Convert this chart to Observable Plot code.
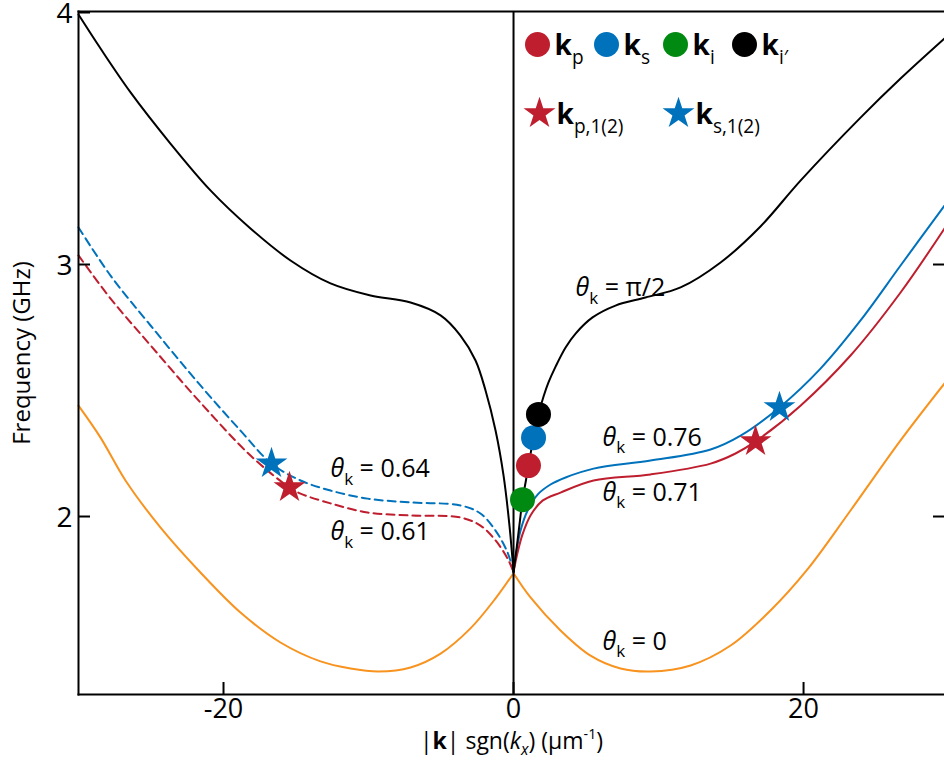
<!DOCTYPE html>
<html><head><meta charset="utf-8">
<script src="https://cdn.jsdelivr.net/npm/d3@7"></script>
<script src="https://cdn.jsdelivr.net/npm/@observablehq/plot@0.6"></script>
<style>html,body{margin:0;padding:0;background:#fff;} #chart svg{display:block;}</style>
</head><body><div id="chart"></div>
<script>
// ---- axis ticks ----
const xTicks = [-20, 0, 20];
const yTicks = [2, 3, 4];

// ---- dispersion branches (k in µm^-1, f in GHz) ----
const kBlackL = [-30.0, -28.48, -26.41, -23.66, -20.90, -18.14, -15.38, -12.62, -9.86, -7.10, -5.03, -3.66, -2.62, -1.93, -1.24, -0.69, -0.28, 0];
const fBlackL = [3.992, 3.857, 3.683, 3.480, 3.294, 3.143, 3.016, 2.925, 2.877, 2.849, 2.798, 2.718, 2.619, 2.500, 2.341, 2.163, 1.964, 1.78];
const kBlackR = [0, 0.21, 0.41, 0.62, 0.83, 1.03, 1.38, 1.72, 2.07, 2.41, 2.90, 3.59, 4.28, 5.45, 7.03, 9.10, 11.52, 14.28, 17.03, 19.79, 23.93, 26.69, 29.72];
const fBlackR = [1.78, 1.873, 1.968, 2.067, 2.135, 2.202, 2.313, 2.405, 2.476, 2.532, 2.595, 2.671, 2.726, 2.790, 2.837, 2.869, 2.909, 3.008, 3.151, 3.333, 3.583, 3.738, 3.897];
const kBlueR = [0, 0.21, 0.48, 0.97, 1.66, 2.55, 3.59, 5.52, 9.45, 13.59, 15.66, 18.34, 21.17, 23.93, 26.69, 29.72];
const fBlueR = [1.78, 1.865, 1.944, 2.024, 2.087, 2.127, 2.155, 2.190, 2.222, 2.266, 2.321, 2.433, 2.587, 2.778, 2.996, 3.234];
const kRedR = [0, 0.28, 0.62, 1.17, 2.00, 3.24, 5.52, 9.45, 13.59, 15.31, 16.69, 19.79, 23.24, 26.69, 29.72];
const fRedR = [1.78, 1.857, 1.929, 2.004, 2.063, 2.095, 2.143, 2.167, 2.210, 2.250, 2.298, 2.440, 2.639, 2.889, 3.143];
const kBlueL = [-30.0, -27.79, -25.03, -21.59, -18.83, -16.69, -14.69, -12.62, -10.07, -7.10, -3.66, -2.28, -1.24, -0.41, 0];
const fBlueL = [3.147, 2.956, 2.758, 2.520, 2.341, 2.210, 2.143, 2.103, 2.071, 2.056, 2.044, 2.012, 1.944, 1.857, 1.78];
const kRedL = [-30.0, -27.79, -25.03, -21.59, -18.14, -15.45, -14.69, -12.62, -10.07, -7.10, -3.66, -2.28, -1.24, -0.41, 0];
const fRedL = [3.036, 2.865, 2.679, 2.452, 2.242, 2.115, 2.091, 2.052, 2.016, 2.004, 1.996, 1.964, 1.905, 1.833, 1.78];
const kOrangeL = [-30.0, -28.48, -26.76, -24.34, -21.59, -18.83, -16.07, -13.31, -11.24, -9.31, -7.10, -5.03, -2.97, -1.24, 0];
const fOrangeL = [2.440, 2.313, 2.143, 1.956, 1.778, 1.619, 1.500, 1.425, 1.397, 1.385, 1.401, 1.456, 1.556, 1.675, 1.775];
const kOrangeR = [0, 1.17, 3.24, 5.31, 7.38, 9.45, 12.21, 14.97, 17.72, 20.21, 23.24, 26.69, 29.72];
const fOrangeR = [1.775, 1.679, 1.548, 1.448, 1.397, 1.385, 1.409, 1.488, 1.627, 1.786, 2.024, 2.302, 2.528];

// ---- wavevector markers ----
const dotK = [0.62, 1.03, 1.38, 1.72];
const dotF = [2.067, 2.202, 2.313, 2.405];
const dotName = ["i", "p", "s", "i′"];
const starK = [-16.69, -15.45, 16.69, 18.34];
const starF = [2.210, 2.115, 2.298, 2.433];
const starName = ["s", "p", "p", "s"];

// ---- legend ----
const legendDots = ["p", "s", "i", "i′"];
const legendStars = ["p,1(2)", "s,1(2)"];

// ---- curve annotations ----
const annotK = [4.28, 6.14, 6.14, -12.62, -12.62, 6.14];
const annotF = [2.905, 2.313, 2.095, 2.187, 1.937, 1.504];
const annotTheta = ["π/2", "0.76", "0.71", "0.64", "0.61", "0"];

// ---- styling ----
const RED = "#BE1E2D", BLUE = "#0072BC", GREEN = "#008A12", ORANGE = "#F7931E", BLACK = "#000";
const colorOf = n => n.startsWith("p") ? RED : n.startsWith("s") ? BLUE : n === "i" ? GREEN : BLACK;
const FONT = "'Open Sans', sans-serif";

const toRows = (ks, fs) => ks.map((k, i) => ({k, f: fs[i]}));
const branches = [
  {data: toRows(kOrangeL, fOrangeL), stroke: ORANGE},
  {data: toRows(kOrangeR, fOrangeR), stroke: ORANGE},
  {data: toRows(kBlueL, fBlueL), stroke: BLUE, dash: "8,5"},
  {data: toRows(kRedL, fRedL), stroke: RED, dash: "8,5"},
  {data: toRows(kBlueR, fBlueR), stroke: BLUE},
  {data: toRows(kRedR, fRedR), stroke: RED},
  {data: toRows(kBlackL, fBlackL), stroke: BLACK},
  {data: toRows(kBlackR, fBlackR), stroke: BLACK}
];
const dots = dotK.map((k, i) => ({k, f: dotF[i], name: dotName[i]}));
const stars = starK.map((k, i) => ({k, f: starF[i], name: starName[i]}));
const annots = annotK.map((k, i) => ({k, f: annotF[i], label: "*{θ}_{k} = " + annotTheta[i]}));

const legendMarks = [];
legendDots.forEach((n, i) => {
  legendMarks.push(Plot.dot([n], {frameAnchor: "top-left", dx: 459 + i * 69, dy: 33, r: 12.5, fill: colorOf(n), stroke: "none"}));
  legendMarks.push(Plot.text([n], {frameAnchor: "top-left", dx: 476 + i * 69, dy: 35, text: d => "!{k}_{" + d + "}", textAnchor: "start", lineAnchor: "middle", fontSize: 28, fill: "black"}));
});
legendStars.forEach((n, i) => {
  legendMarks.push(Plot.dot([n], {frameAnchor: "top-left", dx: 461 + i * 139, dy: 102, r: 10, symbol: "star", fill: colorOf(n), stroke: "none"}));
  legendMarks.push(Plot.text([n], {frameAnchor: "top-left", dx: 478 + i * 139, dy: 104, text: d => "!{k}_{" + d + "}", textAnchor: "start", lineAnchor: "middle", fontSize: 28, fill: "black"}));
});

const chart = Plot.plot({
  width: 944, height: 768,
  marginLeft: 78, marginRight: 0, marginTop: 11, marginBottom: 74,
  x: {domain: [-30, 29.72]},
  y: {domain: [1.2937, 4.004]},
  style: {fontFamily: FONT, background: "white", color: "black", overflow: "visible"},
  marks: [
    ...branches.map(b => Plot.line(b.data, {x: "k", y: "f", stroke: b.stroke, strokeWidth: 2, strokeDasharray: b.dash, curve: "catmull-rom"})),
    Plot.ruleX([0], {stroke: BLACK, strokeWidth: 2}),
    Plot.frame({anchor: "top", stroke: BLACK, strokeWidth: 2}),
    Plot.frame({anchor: "left", stroke: BLACK, strokeWidth: 2}),
    Plot.frame({anchor: "bottom", stroke: BLACK, strokeWidth: 2}),
    Plot.axisY({anchor: "left", ticks: yTicks, tickSize: 12, dx: 12, tickFormat: () => "", strokeWidth: 2, label: null}),
    Plot.axisY({anchor: "right", ticks: [2, 3], tickSize: 12, dx: -12, tickFormat: () => "", strokeWidth: 2, label: null}),
    Plot.axisX({anchor: "bottom", ticks: xTicks, tickSize: 12, dy: -12, tickFormat: () => "", strokeWidth: 2, label: null}),
    Plot.axisY({anchor: "left", ticks: yTicks, tickSize: 0, tickPadding: 6, tickFormat: d => String(d), fontSize: 28, label: null, dy: 2}),
    Plot.axisX({anchor: "bottom", ticks: xTicks, tickSize: 0, tickPadding: 4, tickFormat: d => String(d), fontSize: 27, label: null}),
    Plot.dot(dots, {x: "k", y: "f", r: 12.5, fill: d => colorOf(d.name), stroke: "none"}),
    Plot.dot(stars, {x: "k", y: "f", r: 10, symbol: "star", fill: d => colorOf(d.name), stroke: "none"}),
    Plot.text(annots, {x: "k", y: "f", text: "label", textAnchor: "start", lineAnchor: "middle", fontSize: 25, fill: "black"}),
    ...legendMarks,
    Plot.text(["Frequency (GHz)"], {frameAnchor: "left", textAnchor: "middle", dx: -56, rotate: -90, fontSize: 24, fill: "black"}),
    Plot.text(["|!{k}| sgn(*{k}~{x}) (μm^{-1})"], {frameAnchor: "bottom", textAnchor: "middle", dy: 54, fontSize: 23, fill: "black"})
  ]
});
document.getElementById("chart").appendChild(chart);

// rich text: *{} italic, !{} bold, _{} subscript, ~{} italic subscript, ^{} superscript
const SVGNS = "http://www.w3.org/2000/svg";
chart.querySelectorAll("text").forEach(t => {
  const s = t.textContent;
  if (!/[_^*!~]\{/.test(s)) return;
  const fs = parseFloat(getComputedStyle(t).fontSize) || 16;
  t.textContent = "";
  const re = /([_^*!~])\{([^}]*)\}|([^_^*!~]+)/g;
  let m, shift = 0;
  while ((m = re.exec(s))) {
    const ts = document.createElementNS(SVGNS, "tspan");
    let target = 0;
    if (m[1]) {
      ts.textContent = m[2];
      if (m[1] === "_" || m[1] === "~") { target = fs * 0.3; ts.setAttribute("font-size", fs * 0.68); }
      if (m[1] === "~" || m[1] === "*") ts.setAttribute("font-style", "italic");
      if (m[1] === "^") { target = -fs * 0.4; ts.setAttribute("font-size", fs * 0.62); }
      if (m[1] === "!") ts.setAttribute("font-weight", "bold");
    } else ts.textContent = m[3];
    if (target !== shift) { ts.setAttribute("dy", target - shift); shift = target; }
    t.appendChild(ts);
  }
});
</script></body></html>
